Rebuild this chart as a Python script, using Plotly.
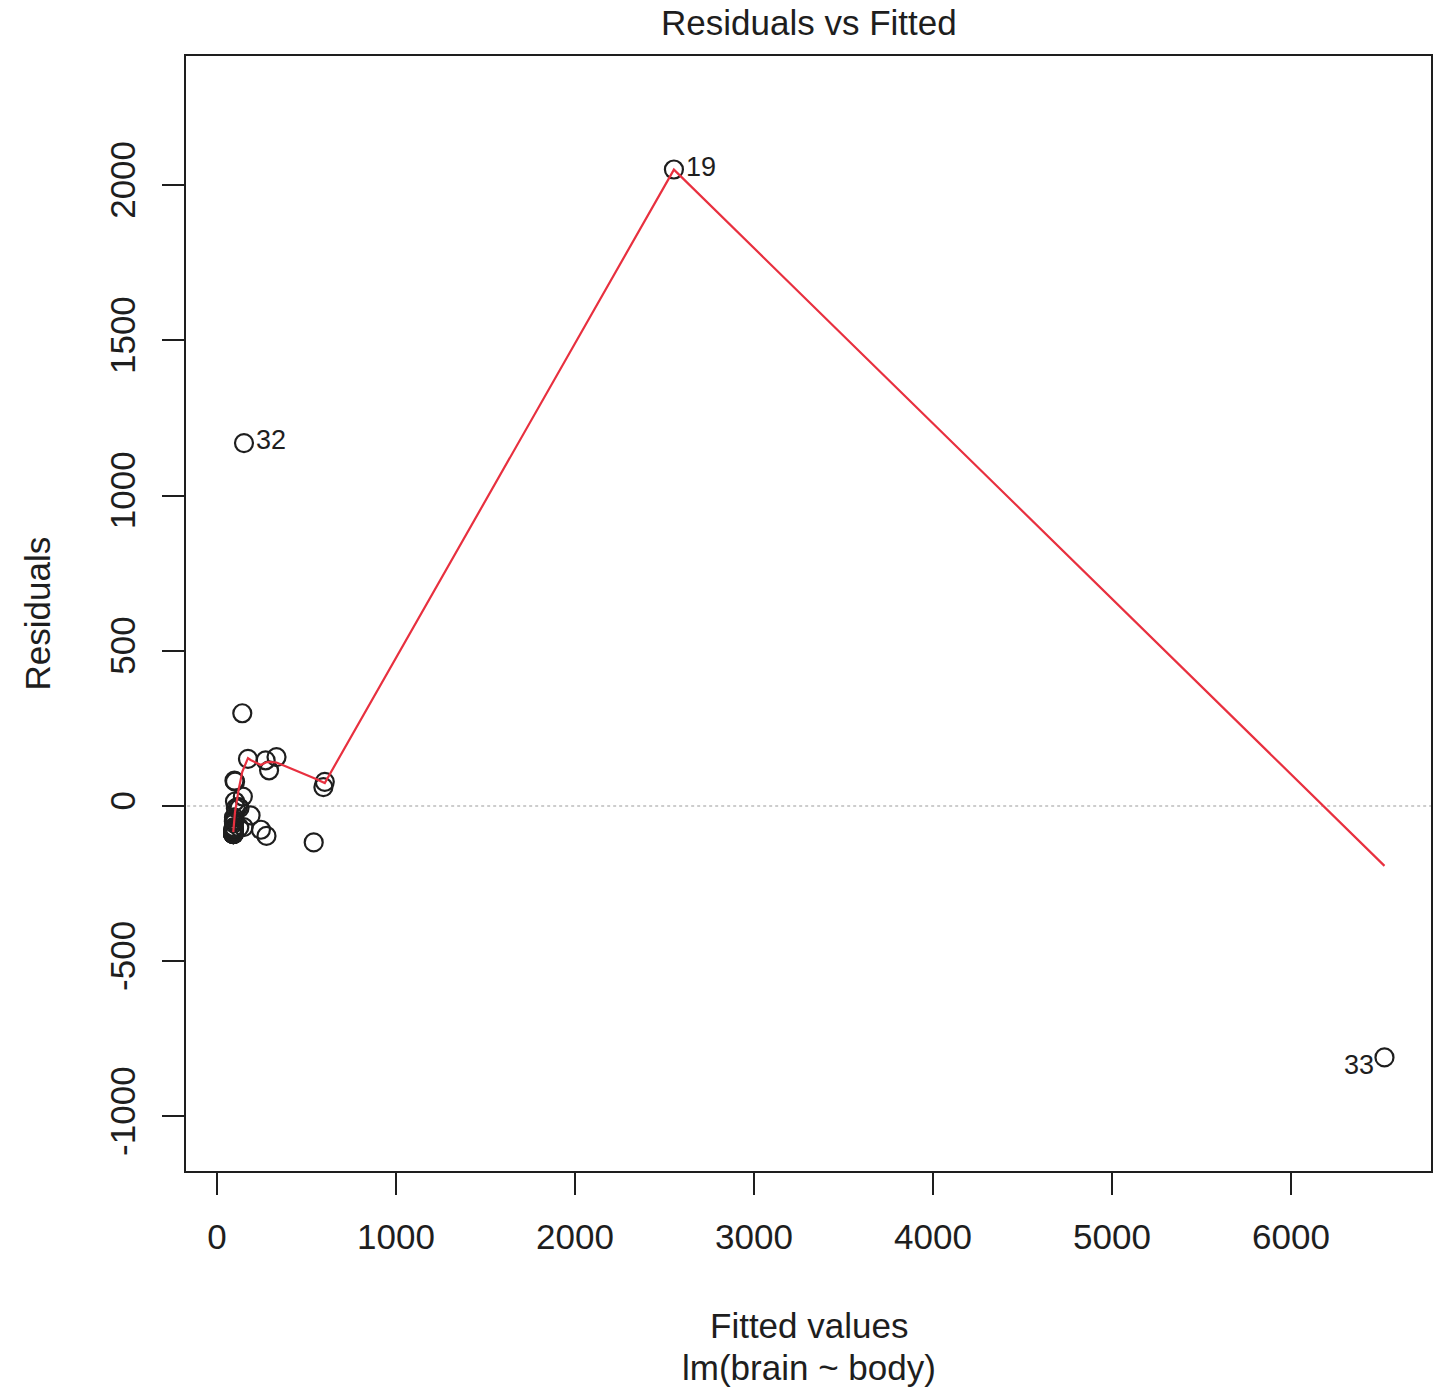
import plotly.graph_objects as go

# Fitted values and residuals of lm(brain ~ body)
fitted = [94.28, 91.47, 92.31, 540.43, 126.12, 117.74, 105.34, 92.01, 95.05, 91.42,
          91.10, 91.89, 91.97, 91.01, 91.06, 94.39, 92.94, 92.65, 2552.69, 91.03,
          271.84, 594.55, 91.76, 100.67, 94.19, 91.20, 92.37, 602.29, 291.07, 173.16,
          91.73, 150.93, 6522.09, 94.39, 97.58, 124.83, 94.92, 91.12, 91.03, 91.01,
          92.36, 332.63, 93.42, 144.65, 187.65, 141.42, 101.20, 91.54, 149.00, 94.48,
          95.15, 91.28, 91.08, 91.12, 91.05, 276.57, 93.90, 245.64, 91.87, 92.57,
          91.10, 95.10]
residuals = [-49.78, -75.97, -84.21, -117.43, -6.62, -2.74, -7.14, -86.51, -37.05, -85.02,
             -87.10, -86.19, -85.37, -90.87, -90.06, -83.59, -80.64, -86.35, 2050.31, -90.73,
             147.16, 60.45, -88.26, 14.33, -68.59, -86.20, -74.87, 77.71, 114.93, 151.84,
             -79.43, 1169.07, -810.09, -90.49, 81.42, -68.83, -77.92, -90.12, -90.63, -90.76,
             -79.86, 157.37, -81.32, 30.35, -30.65, 298.58, 78.30, -89.14, -68.00, -73.48,
             -55.95, -89.38, -89.88, -88.12, -90.72, -96.57, -68.90, -76.64, -89.27, -81.17,
             -88.60, -44.70]

# Smoother (red line)
smooth_x = [91.0, 100.7, 121.0, 141.4, 173.2, 187.7, 245.6, 271.8, 291.1, 332.6,
            540.4, 594.6, 602.3, 2552.7, 6522.1]
smooth_y = [-84, -20, 52, 110, 154, 148, 132, 140, 142, 140,
            90, 76, 74, 2050, -193]

# Labelled observations
label_ids = ["19", "32", "33"]
label_x = [2552.69, 150.93, 6522.09]
label_y = [2050.31, 1169.07, -810.09]

x_ticks = [0, 1000, 2000, 3000, 4000, 5000, 6000]
x_ticktext = ["0", "1000", "2000", "3000", "4000", "5000", "6000"]
y_ticks = [-1000, -500, 0, 500, 1000, 1500, 2000]
y_ticktext = ["-1000", "-500", "0", "500", "1000", "1500", "2000"]

FONT = "Liberation Sans, Arial, sans-serif"
INK = "#1e1e1e"

fig = go.Figure()

fig.add_trace(go.Scatter(
    x=[-200, 7000], y=[0, 0], mode="lines",
    line=dict(color="#bdbdbd", width=1.5, dash="dot"),
    hoverinfo="skip", showlegend=False))

fig.add_trace(go.Scatter(
    x=fitted, y=residuals, mode="markers",
    marker=dict(symbol="circle-open", size=18, color=INK, line=dict(width=2.2)),
    showlegend=False))

fig.add_trace(go.Scatter(
    x=smooth_x, y=smooth_y, mode="lines",
    line=dict(color="#e8303f", width=2.2),
    showlegend=False))

for lid, lx, ly in zip(label_ids, label_x, label_y):
    right = lid != "33"
    fig.add_annotation(
        x=lx, y=ly, text=lid, showarrow=False,
        xanchor="left" if right else "right",
        xshift=10 if right else -8, yshift=3 if right else -8,
        font=dict(family=FONT, size=27, color=INK))

fig.add_annotation(x=0.5, y=1, xref="paper", yref="paper", yanchor="bottom", yshift=12,
                   text="Residuals vs Fitted", showarrow=False,
                   font=dict(family=FONT, size=35, color=INK))
fig.add_annotation(x=0.5, y=0, xref="paper", yref="paper", yanchor="middle", yshift=-154,
                   text="Fitted values", showarrow=False,
                   font=dict(family=FONT, size=35, color=INK))
fig.add_annotation(x=0.5, y=0, xref="paper", yref="paper", yanchor="middle", yshift=-196,
                   text="lm(brain ~ body)", showarrow=False,
                   font=dict(family=FONT, size=35, color=INK))
fig.add_annotation(x=0, y=0.5, xref="paper", yref="paper", xanchor="center", xshift=-149,
                   text="Residuals", textangle=-90, showarrow=False,
                   font=dict(family=FONT, size=35, color=INK))

fig.update_xaxes(
    range=[-173, 6782], tickvals=x_ticks, ticktext=x_ticktext,
    ticks="outside", ticklen=22, tickwidth=2, tickcolor=INK,
    ticklabelstandoff=12,
    showgrid=False, zeroline=False, showline=True, mirror=True,
    linecolor=INK, linewidth=2,
    tickfont=dict(family=FONT, size=35, color=INK))
fig.update_yaxes(
    range=[-1176, 2416], tickvals=y_ticks, ticktext=y_ticktext,
    ticks="outside", ticklen=22, tickwidth=2, tickcolor=INK, tickangle=-90,
    ticklabelstandoff=13,
    showgrid=False, zeroline=False, showline=True, mirror=True,
    linecolor=INK, linewidth=2,
    tickfont=dict(family=FONT, size=35, color=INK))

fig.update_layout(
    width=1440, height=1390,
    margin=dict(l=186, r=7, t=56, b=219),
    paper_bgcolor="white", plot_bgcolor="white",
    showlegend=False)

fig.write_html("out.html")
